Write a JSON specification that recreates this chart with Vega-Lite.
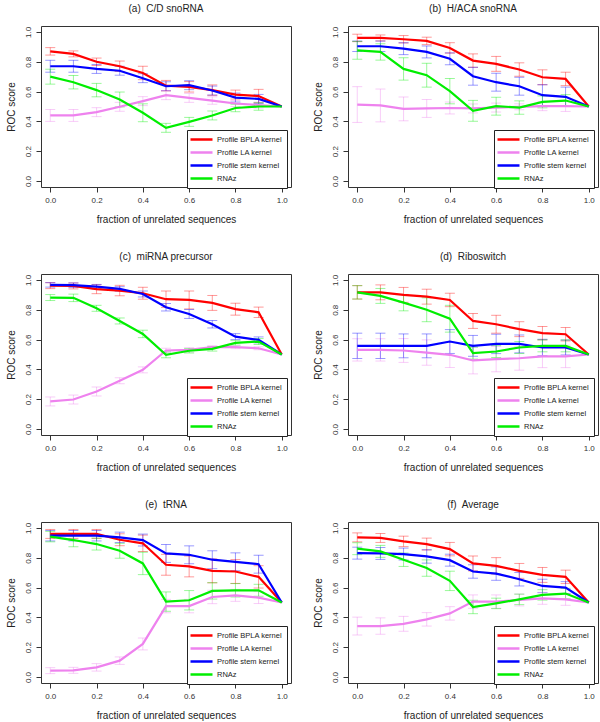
{
"$schema": "https://vega.github.io/schema/vega-lite/v6.json",
"padding": {"left": 5, "top": 3, "right": 2, "bottom": 2},
"datasets": {"d": [
{"p":"a","s":"Profile BPLA kernel","x":0,"y":0.87,"e":0.025},{"p":"a","s":"Profile BPLA kernel","x":0.1,"y":0.853,"e":0.02},{"p":"a","s":"Profile BPLA kernel","x":0.2,"y":0.80,"e":0.025},{"p":"a","s":"Profile BPLA kernel","x":0.3,"y":0.77,"e":0.035},{"p":"a","s":"Profile BPLA kernel","x":0.4,"y":0.725,"e":0.045},{"p":"a","s":"Profile BPLA kernel","x":0.5,"y":0.64,"e":0.035},{"p":"a","s":"Profile BPLA kernel","x":0.6,"y":0.632,"e":0.035},{"p":"a","s":"Profile BPLA kernel","x":0.7,"y":0.61,"e":0.035},{"p":"a","s":"Profile BPLA kernel","x":0.8,"y":0.58,"e":0.03},{"p":"a","s":"Profile BPLA kernel","x":0.9,"y":0.57,"e":0.045},{"p":"a","s":"Profile BPLA kernel","x":1,"y":0.5,"e":0},
{"p":"a","s":"Profile LA kernel","x":0,"y":0.44,"e":0.04},{"p":"a","s":"Profile LA kernel","x":0.1,"y":0.44,"e":0.04},{"p":"a","s":"Profile LA kernel","x":0.2,"y":0.462,"e":0.03},{"p":"a","s":"Profile LA kernel","x":0.3,"y":0.498,"e":0.03},{"p":"a","s":"Profile LA kernel","x":0.4,"y":0.536,"e":0.03},{"p":"a","s":"Profile LA kernel","x":0.5,"y":0.576,"e":0.03},{"p":"a","s":"Profile LA kernel","x":0.6,"y":0.558,"e":0.03},{"p":"a","s":"Profile LA kernel","x":0.7,"y":0.54,"e":0.025},{"p":"a","s":"Profile LA kernel","x":0.8,"y":0.52,"e":0.02},{"p":"a","s":"Profile LA kernel","x":0.9,"y":0.51,"e":0.02},{"p":"a","s":"Profile LA kernel","x":1,"y":0.5,"e":0},
{"p":"a","s":"Profile stem kernel","x":0,"y":0.77,"e":0.04},{"p":"a","s":"Profile stem kernel","x":0.1,"y":0.77,"e":0.04},{"p":"a","s":"Profile stem kernel","x":0.2,"y":0.752,"e":0.03},{"p":"a","s":"Profile stem kernel","x":0.3,"y":0.74,"e":0.03},{"p":"a","s":"Profile stem kernel","x":0.4,"y":0.69,"e":0.03},{"p":"a","s":"Profile stem kernel","x":0.5,"y":0.636,"e":0.03},{"p":"a","s":"Profile stem kernel","x":0.6,"y":0.643,"e":0.03},{"p":"a","s":"Profile stem kernel","x":0.7,"y":0.607,"e":0.03},{"p":"a","s":"Profile stem kernel","x":0.8,"y":0.56,"e":0.03},{"p":"a","s":"Profile stem kernel","x":0.9,"y":0.551,"e":0.03},{"p":"a","s":"Profile stem kernel","x":1,"y":0.5,"e":0},
{"p":"a","s":"RNAz","x":0,"y":0.70,"e":0.05},{"p":"a","s":"RNAz","x":0.1,"y":0.663,"e":0.045},{"p":"a","s":"RNAz","x":0.2,"y":0.61,"e":0.045},{"p":"a","s":"RNAz","x":0.3,"y":0.547,"e":0.05},{"p":"a","s":"RNAz","x":0.4,"y":0.458,"e":0.06},{"p":"a","s":"RNAz","x":0.5,"y":0.357,"e":0.03},{"p":"a","s":"RNAz","x":0.6,"y":0.397,"e":0.03},{"p":"a","s":"RNAz","x":0.7,"y":0.44,"e":0.03},{"p":"a","s":"RNAz","x":0.8,"y":0.49,"e":0.025},{"p":"a","s":"RNAz","x":0.9,"y":0.5,"e":0.025},{"p":"a","s":"RNAz","x":1,"y":0.5,"e":0},

{"p":"b","s":"Profile BPLA kernel","x":0,"y":0.96,"e":0.025},{"p":"b","s":"Profile BPLA kernel","x":0.1,"y":0.96,"e":0.02},{"p":"b","s":"Profile BPLA kernel","x":0.2,"y":0.951,"e":0.025},{"p":"b","s":"Profile BPLA kernel","x":0.3,"y":0.94,"e":0.025},{"p":"b","s":"Profile BPLA kernel","x":0.4,"y":0.893,"e":0.035},{"p":"b","s":"Profile BPLA kernel","x":0.5,"y":0.808,"e":0.045},{"p":"b","s":"Profile BPLA kernel","x":0.6,"y":0.786,"e":0.05},{"p":"b","s":"Profile BPLA kernel","x":0.7,"y":0.748,"e":0.045},{"p":"b","s":"Profile BPLA kernel","x":0.8,"y":0.696,"e":0.05},{"p":"b","s":"Profile BPLA kernel","x":0.9,"y":0.685,"e":0.045},{"p":"b","s":"Profile BPLA kernel","x":1,"y":0.5,"e":0},
{"p":"b","s":"Profile LA kernel","x":0,"y":0.513,"e":0.12},{"p":"b","s":"Profile LA kernel","x":0.1,"y":0.507,"e":0.11},{"p":"b","s":"Profile LA kernel","x":0.2,"y":0.484,"e":0.08},{"p":"b","s":"Profile LA kernel","x":0.3,"y":0.487,"e":0.06},{"p":"b","s":"Profile LA kernel","x":0.4,"y":0.49,"e":0.04},{"p":"b","s":"Profile LA kernel","x":0.5,"y":0.487,"e":0.03},{"p":"b","s":"Profile LA kernel","x":0.6,"y":0.493,"e":0.03},{"p":"b","s":"Profile LA kernel","x":0.7,"y":0.498,"e":0.02},{"p":"b","s":"Profile LA kernel","x":0.8,"y":0.502,"e":0.03},{"p":"b","s":"Profile LA kernel","x":0.9,"y":0.502,"e":0.035},{"p":"b","s":"Profile LA kernel","x":1,"y":0.5,"e":0},
{"p":"b","s":"Profile stem kernel","x":0,"y":0.904,"e":0.035},{"p":"b","s":"Profile stem kernel","x":0.1,"y":0.904,"e":0.035},{"p":"b","s":"Profile stem kernel","x":0.2,"y":0.888,"e":0.04},{"p":"b","s":"Profile stem kernel","x":0.3,"y":0.866,"e":0.04},{"p":"b","s":"Profile stem kernel","x":0.4,"y":0.82,"e":0.04},{"p":"b","s":"Profile stem kernel","x":0.5,"y":0.703,"e":0.06},{"p":"b","s":"Profile stem kernel","x":0.6,"y":0.663,"e":0.06},{"p":"b","s":"Profile stem kernel","x":0.7,"y":0.636,"e":0.06},{"p":"b","s":"Profile stem kernel","x":0.8,"y":0.576,"e":0.07},{"p":"b","s":"Profile stem kernel","x":0.9,"y":0.565,"e":0.065},{"p":"b","s":"Profile stem kernel","x":1,"y":0.5,"e":0},
{"p":"b","s":"RNAz","x":0,"y":0.877,"e":0.06},{"p":"b","s":"RNAz","x":0.1,"y":0.866,"e":0.055},{"p":"b","s":"RNAz","x":0.2,"y":0.752,"e":0.075},{"p":"b","s":"RNAz","x":0.3,"y":0.71,"e":0.08},{"p":"b","s":"RNAz","x":0.4,"y":0.603,"e":0.085},{"p":"b","s":"RNAz","x":0.5,"y":0.471,"e":0.07},{"p":"b","s":"RNAz","x":0.6,"y":0.502,"e":0.06},{"p":"b","s":"RNAz","x":0.7,"y":0.493,"e":0.045},{"p":"b","s":"RNAz","x":0.8,"y":0.531,"e":0.04},{"p":"b","s":"RNAz","x":0.9,"y":0.54,"e":0.04},{"p":"b","s":"RNAz","x":1,"y":0.5,"e":0},

{"p":"c","s":"Profile BPLA kernel","x":0,"y":0.962,"e":0.02},{"p":"c","s":"Profile BPLA kernel","x":0.1,"y":0.96,"e":0.02},{"p":"c","s":"Profile BPLA kernel","x":0.2,"y":0.938,"e":0.03},{"p":"c","s":"Profile BPLA kernel","x":0.3,"y":0.929,"e":0.035},{"p":"c","s":"Profile BPLA kernel","x":0.4,"y":0.911,"e":0.04},{"p":"c","s":"Profile BPLA kernel","x":0.5,"y":0.871,"e":0.055},{"p":"c","s":"Profile BPLA kernel","x":0.6,"y":0.866,"e":0.06},{"p":"c","s":"Profile BPLA kernel","x":0.7,"y":0.846,"e":0.05},{"p":"c","s":"Profile BPLA kernel","x":0.8,"y":0.804,"e":0.04},{"p":"c","s":"Profile BPLA kernel","x":0.9,"y":0.783,"e":0.035},{"p":"c","s":"Profile BPLA kernel","x":1,"y":0.5,"e":0},
{"p":"c","s":"Profile LA kernel","x":0,"y":0.185,"e":0.03},{"p":"c","s":"Profile LA kernel","x":0.1,"y":0.198,"e":0.03},{"p":"c","s":"Profile LA kernel","x":0.2,"y":0.252,"e":0.03},{"p":"c","s":"Profile LA kernel","x":0.3,"y":0.324,"e":0.02},{"p":"c","s":"Profile LA kernel","x":0.4,"y":0.397,"e":0.02},{"p":"c","s":"Profile LA kernel","x":0.5,"y":0.527,"e":0.015},{"p":"c","s":"Profile LA kernel","x":0.6,"y":0.531,"e":0.015},{"p":"c","s":"Profile LA kernel","x":0.7,"y":0.549,"e":0.01},{"p":"c","s":"Profile LA kernel","x":0.8,"y":0.549,"e":0.01},{"p":"c","s":"Profile LA kernel","x":0.9,"y":0.542,"e":0.01},{"p":"c","s":"Profile LA kernel","x":1,"y":0.5,"e":0},
{"p":"c","s":"Profile stem kernel","x":0,"y":0.967,"e":0.015},{"p":"c","s":"Profile stem kernel","x":0.1,"y":0.965,"e":0.015},{"p":"c","s":"Profile stem kernel","x":0.2,"y":0.955,"e":0.015},{"p":"c","s":"Profile stem kernel","x":0.3,"y":0.94,"e":0.015},{"p":"c","s":"Profile stem kernel","x":0.4,"y":0.906,"e":0.02},{"p":"c","s":"Profile stem kernel","x":0.5,"y":0.817,"e":0.025},{"p":"c","s":"Profile stem kernel","x":0.6,"y":0.772,"e":0.03},{"p":"c","s":"Profile stem kernel","x":0.7,"y":0.703,"e":0.025},{"p":"c","s":"Profile stem kernel","x":0.8,"y":0.62,"e":0.02},{"p":"c","s":"Profile stem kernel","x":0.9,"y":0.598,"e":0.02},{"p":"c","s":"Profile stem kernel","x":1,"y":0.5,"e":0},
{"p":"c","s":"RNAz","x":0,"y":0.882,"e":0.02},{"p":"c","s":"RNAz","x":0.1,"y":0.88,"e":0.025},{"p":"c","s":"RNAz","x":0.2,"y":0.81,"e":0.02},{"p":"c","s":"RNAz","x":0.3,"y":0.725,"e":0.02},{"p":"c","s":"RNAz","x":0.4,"y":0.638,"e":0.025},{"p":"c","s":"RNAz","x":0.5,"y":0.498,"e":0.02},{"p":"c","s":"RNAz","x":0.6,"y":0.525,"e":0.015},{"p":"c","s":"RNAz","x":0.7,"y":0.538,"e":0.015},{"p":"c","s":"RNAz","x":0.8,"y":0.578,"e":0.015},{"p":"c","s":"RNAz","x":0.9,"y":0.587,"e":0.02},{"p":"c","s":"RNAz","x":1,"y":0.5,"e":0},

{"p":"d","s":"Profile BPLA kernel","x":0,"y":0.917,"e":0.045},{"p":"d","s":"Profile BPLA kernel","x":0.1,"y":0.917,"e":0.05},{"p":"d","s":"Profile BPLA kernel","x":0.2,"y":0.9,"e":0.05},{"p":"d","s":"Profile BPLA kernel","x":0.3,"y":0.888,"e":0.05},{"p":"d","s":"Profile BPLA kernel","x":0.4,"y":0.866,"e":0.045},{"p":"d","s":"Profile BPLA kernel","x":0.5,"y":0.725,"e":0.05},{"p":"d","s":"Profile BPLA kernel","x":0.6,"y":0.703,"e":0.06},{"p":"d","s":"Profile BPLA kernel","x":0.7,"y":0.67,"e":0.05},{"p":"d","s":"Profile BPLA kernel","x":0.8,"y":0.643,"e":0.045},{"p":"d","s":"Profile BPLA kernel","x":0.9,"y":0.636,"e":0.045},{"p":"d","s":"Profile BPLA kernel","x":1,"y":0.5,"e":0},
{"p":"d","s":"Profile LA kernel","x":0,"y":0.531,"e":0.075},{"p":"d","s":"Profile LA kernel","x":0.1,"y":0.531,"e":0.075},{"p":"d","s":"Profile LA kernel","x":0.2,"y":0.527,"e":0.08},{"p":"d","s":"Profile LA kernel","x":0.3,"y":0.513,"e":0.085},{"p":"d","s":"Profile LA kernel","x":0.4,"y":0.498,"e":0.085},{"p":"d","s":"Profile LA kernel","x":0.5,"y":0.46,"e":0.09},{"p":"d","s":"Profile LA kernel","x":0.6,"y":0.469,"e":0.085},{"p":"d","s":"Profile LA kernel","x":0.7,"y":0.475,"e":0.08},{"p":"d","s":"Profile LA kernel","x":0.8,"y":0.487,"e":0.075},{"p":"d","s":"Profile LA kernel","x":0.9,"y":0.487,"e":0.075},{"p":"d","s":"Profile LA kernel","x":1,"y":0.5,"e":0},
{"p":"d","s":"Profile stem kernel","x":0,"y":0.558,"e":0.085},{"p":"d","s":"Profile stem kernel","x":0.1,"y":0.558,"e":0.085},{"p":"d","s":"Profile stem kernel","x":0.2,"y":0.558,"e":0.08},{"p":"d","s":"Profile stem kernel","x":0.3,"y":0.558,"e":0.08},{"p":"d","s":"Profile stem kernel","x":0.4,"y":0.587,"e":0.08},{"p":"d","s":"Profile stem kernel","x":0.5,"y":0.558,"e":0.07},{"p":"d","s":"Profile stem kernel","x":0.6,"y":0.571,"e":0.065},{"p":"d","s":"Profile stem kernel","x":0.7,"y":0.571,"e":0.06},{"p":"d","s":"Profile stem kernel","x":0.8,"y":0.547,"e":0.055},{"p":"d","s":"Profile stem kernel","x":0.9,"y":0.547,"e":0.05},{"p":"d","s":"Profile stem kernel","x":1,"y":0.5,"e":0},
{"p":"d","s":"RNAz","x":0,"y":0.917,"e":0.045},{"p":"d","s":"RNAz","x":0.1,"y":0.893,"e":0.05},{"p":"d","s":"RNAz","x":0.2,"y":0.848,"e":0.055},{"p":"d","s":"RNAz","x":0.3,"y":0.8,"e":0.08},{"p":"d","s":"RNAz","x":0.4,"y":0.74,"e":0.09},{"p":"d","s":"RNAz","x":0.5,"y":0.509,"e":0.04},{"p":"d","s":"RNAz","x":0.6,"y":0.52,"e":0.04},{"p":"d","s":"RNAz","x":0.7,"y":0.547,"e":0.04},{"p":"d","s":"RNAz","x":0.8,"y":0.558,"e":0.04},{"p":"d","s":"RNAz","x":0.9,"y":0.558,"e":0.04},{"p":"d","s":"RNAz","x":1,"y":0.5,"e":0},

{"p":"e","s":"Profile BPLA kernel","x":0,"y":0.96,"e":0.03},{"p":"e","s":"Profile BPLA kernel","x":0.1,"y":0.96,"e":0.03},{"p":"e","s":"Profile BPLA kernel","x":0.2,"y":0.96,"e":0.03},{"p":"e","s":"Profile BPLA kernel","x":0.3,"y":0.921,"e":0.04},{"p":"e","s":"Profile BPLA kernel","x":0.4,"y":0.897,"e":0.055},{"p":"e","s":"Profile BPLA kernel","x":0.5,"y":0.753,"e":0.07},{"p":"e","s":"Profile BPLA kernel","x":0.6,"y":0.742,"e":0.07},{"p":"e","s":"Profile BPLA kernel","x":0.7,"y":0.712,"e":0.08},{"p":"e","s":"Profile BPLA kernel","x":0.8,"y":0.708,"e":0.08},{"p":"e","s":"Profile BPLA kernel","x":0.9,"y":0.672,"e":0.075},{"p":"e","s":"Profile BPLA kernel","x":1,"y":0.5,"e":0},
{"p":"e","s":"Profile LA kernel","x":0,"y":0.043,"e":0.02},{"p":"e","s":"Profile LA kernel","x":0.1,"y":0.045,"e":0.02},{"p":"e","s":"Profile LA kernel","x":0.2,"y":0.065,"e":0.025},{"p":"e","s":"Profile LA kernel","x":0.3,"y":0.11,"e":0.025},{"p":"e","s":"Profile LA kernel","x":0.4,"y":0.222,"e":0.04},{"p":"e","s":"Profile LA kernel","x":0.5,"y":0.476,"e":0.045},{"p":"e","s":"Profile LA kernel","x":0.6,"y":0.476,"e":0.045},{"p":"e","s":"Profile LA kernel","x":0.7,"y":0.537,"e":0.045},{"p":"e","s":"Profile LA kernel","x":0.8,"y":0.548,"e":0.04},{"p":"e","s":"Profile LA kernel","x":0.9,"y":0.533,"e":0.04},{"p":"e","s":"Profile LA kernel","x":1,"y":0.5,"e":0},
{"p":"e","s":"Profile stem kernel","x":0,"y":0.948,"e":0.035},{"p":"e","s":"Profile stem kernel","x":0.1,"y":0.948,"e":0.035},{"p":"e","s":"Profile stem kernel","x":0.2,"y":0.948,"e":0.035},{"p":"e","s":"Profile stem kernel","x":0.3,"y":0.937,"e":0.035},{"p":"e","s":"Profile stem kernel","x":0.4,"y":0.919,"e":0.04},{"p":"e","s":"Profile stem kernel","x":0.5,"y":0.829,"e":0.06},{"p":"e","s":"Profile stem kernel","x":0.6,"y":0.82,"e":0.06},{"p":"e","s":"Profile stem kernel","x":0.7,"y":0.787,"e":0.06},{"p":"e","s":"Profile stem kernel","x":0.8,"y":0.773,"e":0.06},{"p":"e","s":"Profile stem kernel","x":0.9,"y":0.757,"e":0.06},{"p":"e","s":"Profile stem kernel","x":1,"y":0.5,"e":0},
{"p":"e","s":"RNAz","x":0,"y":0.942,"e":0.035},{"p":"e","s":"RNAz","x":0.1,"y":0.919,"e":0.045},{"p":"e","s":"RNAz","x":0.2,"y":0.892,"e":0.04},{"p":"e","s":"RNAz","x":0.3,"y":0.847,"e":0.05},{"p":"e","s":"RNAz","x":0.4,"y":0.762,"e":0.075},{"p":"e","s":"RNAz","x":0.5,"y":0.506,"e":0.065},{"p":"e","s":"RNAz","x":0.6,"y":0.515,"e":0.065},{"p":"e","s":"RNAz","x":0.7,"y":0.578,"e":0.055},{"p":"e","s":"RNAz","x":0.8,"y":0.582,"e":0.045},{"p":"e","s":"RNAz","x":0.9,"y":0.582,"e":0.04},{"p":"e","s":"RNAz","x":1,"y":0.5,"e":0},

{"p":"f","s":"Profile BPLA kernel","x":0,"y":0.937,"e":0.03},{"p":"f","s":"Profile BPLA kernel","x":0.1,"y":0.933,"e":0.03},{"p":"f","s":"Profile BPLA kernel","x":0.2,"y":0.91,"e":0.035},{"p":"f","s":"Profile BPLA kernel","x":0.3,"y":0.892,"e":0.04},{"p":"f","s":"Profile BPLA kernel","x":0.4,"y":0.858,"e":0.045},{"p":"f","s":"Profile BPLA kernel","x":0.5,"y":0.762,"e":0.05},{"p":"f","s":"Profile BPLA kernel","x":0.6,"y":0.746,"e":0.055},{"p":"f","s":"Profile BPLA kernel","x":0.7,"y":0.712,"e":0.05},{"p":"f","s":"Profile BPLA kernel","x":0.8,"y":0.685,"e":0.05},{"p":"f","s":"Profile BPLA kernel","x":0.9,"y":0.672,"e":0.045},{"p":"f","s":"Profile BPLA kernel","x":1,"y":0.5,"e":0},
{"p":"f","s":"Profile LA kernel","x":0,"y":0.342,"e":0.06},{"p":"f","s":"Profile LA kernel","x":0.1,"y":0.342,"e":0.055},{"p":"f","s":"Profile LA kernel","x":0.2,"y":0.357,"e":0.05},{"p":"f","s":"Profile LA kernel","x":0.3,"y":0.387,"e":0.045},{"p":"f","s":"Profile LA kernel","x":0.4,"y":0.427,"e":0.045},{"p":"f","s":"Profile LA kernel","x":0.5,"y":0.506,"e":0.045},{"p":"f","s":"Profile LA kernel","x":0.6,"y":0.506,"e":0.045},{"p":"f","s":"Profile LA kernel","x":0.7,"y":0.517,"e":0.04},{"p":"f","s":"Profile LA kernel","x":0.8,"y":0.528,"e":0.04},{"p":"f","s":"Profile LA kernel","x":0.9,"y":0.521,"e":0.04},{"p":"f","s":"Profile LA kernel","x":1,"y":0.5,"e":0},
{"p":"f","s":"Profile stem kernel","x":0,"y":0.831,"e":0.04},{"p":"f","s":"Profile stem kernel","x":0.1,"y":0.829,"e":0.04},{"p":"f","s":"Profile stem kernel","x":0.2,"y":0.825,"e":0.04},{"p":"f","s":"Profile stem kernel","x":0.3,"y":0.809,"e":0.045},{"p":"f","s":"Profile stem kernel","x":0.4,"y":0.784,"e":0.04},{"p":"f","s":"Profile stem kernel","x":0.5,"y":0.708,"e":0.045},{"p":"f","s":"Profile stem kernel","x":0.6,"y":0.694,"e":0.045},{"p":"f","s":"Profile stem kernel","x":0.7,"y":0.656,"e":0.045},{"p":"f","s":"Profile stem kernel","x":0.8,"y":0.611,"e":0.045},{"p":"f","s":"Profile stem kernel","x":0.9,"y":0.6,"e":0.04},{"p":"f","s":"Profile stem kernel","x":1,"y":0.5,"e":0},
{"p":"f","s":"RNAz","x":0,"y":0.861,"e":0.04},{"p":"f","s":"RNAz","x":0.1,"y":0.843,"e":0.04},{"p":"f","s":"RNAz","x":0.2,"y":0.787,"e":0.045},{"p":"f","s":"RNAz","x":0.3,"y":0.731,"e":0.055},{"p":"f","s":"RNAz","x":0.4,"y":0.645,"e":0.065},{"p":"f","s":"RNAz","x":0.5,"y":0.47,"e":0.045},{"p":"f","s":"RNAz","x":0.6,"y":0.494,"e":0.035},{"p":"f","s":"RNAz","x":0.7,"y":0.521,"e":0.035},{"p":"f","s":"RNAz","x":0.8,"y":0.551,"e":0.035},{"p":"f","s":"RNAz","x":0.9,"y":0.56,"e":0.035},{"p":"f","s":"RNAz","x":1,"y":0.5,"e":0}
]},
"data": {"name": "d"},
"config": {
  "font": "Liberation Sans",
  "view": {"stroke": "#333", "strokeWidth": 1},
  "axis": {"grid": false, "domain": false, "tickColor": "#333", "tickSize": 5, "labelFont": "Liberation Sans", "labelFontSize": 8, "labelColor": "#333", "labelPadding": 4, "labelOverlap": false, "titleFont": "Liberation Sans", "titleFontSize": 10, "titleFontWeight": "normal", "titleColor": "#222"},
  "axisY": {"labelAngle": -90, "labelAlign": "center", "labelBaseline": "bottom", "titlePadding": 8},
  "axisX": {"titlePadding": 10},
  "title": {"fontSize": 10, "fontWeight": "normal", "font": "Liberation Sans", "color": "#222", "offset": 12},
  "legend": {"orient": "none", "legendX": 146, "legendY": 104, "strokeColor": "#222", "fillColor": "white", "padding": 4, "labelFont": "Liberation Sans", "labelFontSize": 7.5, "labelColor": "#222", "labelOffset": 15, "rowPadding": 2, "symbolStrokeWidth": 2.5, "symbolSize": 64, "symbolOpacity": 1}
},
"resolve": {"legend": {"color": "independent"}},
"vconcat": [
 {"hconcat": [
  {"title": "(a)\u00a0 C/D snoRNA", "width": 250, "height": 161, "transform": [{"filter": "datum.p === 'a'"}],
   "encoding": {"x": {"field": "x", "type": "quantitative", "scale": {"domain": [-0.04, 1.04], "nice": false, "zero": false}, "axis": {"values": [0,0.2,0.4,0.6,0.8,1], "format": ".1f", "title": "fraction of unrelated sequences"}},
      "y": {"field": "y", "type": "quantitative", "scale": {"domain": [-0.04, 1.04], "nice": false, "zero": false}, "axis": {"values": [0,0.2,0.4,0.6,0.8,1], "format": ".1f", "title": "ROC score"}},
      "color": {"field": "s", "type": "nominal", "scale": {"domain": ["Profile BPLA kernel","Profile LA kernel","Profile stem kernel","RNAz"], "range": ["#FF0000","#EE82EE","#0000FF","#00EE00"]}, "legend": {"title": null, "symbolType": "M-1.5,0H4"}}},
   "layer": [
    {"transform": [{"filter": "datum.e > 0"}], "mark": {"type": "errorbar", "ticks": {"size": 10, "opacity": 0.4}, "rule": {"opacity": 0.4}},
     "encoding": {"yError": {"field": "e"}}},
    {"mark": {"type": "line", "strokeWidth": 2.2}}
   ]},
  {"title": "(b)\u00a0 H/ACA snoRNA", "width": 250, "height": 161, "transform": [{"filter": "datum.p === 'b'"}],
   "encoding": {"x": {"field": "x", "type": "quantitative", "scale": {"domain": [-0.04, 1.04], "nice": false, "zero": false}, "axis": {"values": [0,0.2,0.4,0.6,0.8,1], "format": ".1f", "title": "fraction of unrelated sequences"}},
      "y": {"field": "y", "type": "quantitative", "scale": {"domain": [-0.04, 1.04], "nice": false, "zero": false}, "axis": {"values": [0,0.2,0.4,0.6,0.8,1], "format": ".1f", "title": "ROC score"}},
      "color": {"field": "s", "type": "nominal", "scale": {"domain": ["Profile BPLA kernel","Profile LA kernel","Profile stem kernel","RNAz"], "range": ["#FF0000","#EE82EE","#0000FF","#00EE00"]}, "legend": {"title": null, "symbolType": "M-1.5,0H4"}}},
   "layer": [
    {"transform": [{"filter": "datum.e > 0"}], "mark": {"type": "errorbar", "ticks": {"size": 10, "opacity": 0.4}, "rule": {"opacity": 0.4}},
     "encoding": {"yError": {"field": "e"}}},
    {"mark": {"type": "line", "strokeWidth": 2.2}}
   ]}
 ], "spacing": 20, "resolve": {"legend": {"color": "independent"}}},
 {"hconcat": [
  {"title": "(c)\u00a0 miRNA precursor", "width": 250, "height": 161, "transform": [{"filter": "datum.p === 'c'"}],
   "encoding": {"x": {"field": "x", "type": "quantitative", "scale": {"domain": [-0.04, 1.04], "nice": false, "zero": false}, "axis": {"values": [0,0.2,0.4,0.6,0.8,1], "format": ".1f", "title": "fraction of unrelated sequences"}},
      "y": {"field": "y", "type": "quantitative", "scale": {"domain": [-0.04, 1.04], "nice": false, "zero": false}, "axis": {"values": [0,0.2,0.4,0.6,0.8,1], "format": ".1f", "title": "ROC score"}},
      "color": {"field": "s", "type": "nominal", "scale": {"domain": ["Profile BPLA kernel","Profile LA kernel","Profile stem kernel","RNAz"], "range": ["#FF0000","#EE82EE","#0000FF","#00EE00"]}, "legend": {"title": null, "symbolType": "M-1.5,0H4"}}},
   "layer": [
    {"transform": [{"filter": "datum.e > 0"}], "mark": {"type": "errorbar", "ticks": {"size": 10, "opacity": 0.4}, "rule": {"opacity": 0.4}},
     "encoding": {"yError": {"field": "e"}}},
    {"mark": {"type": "line", "strokeWidth": 2.2}}
   ]},
  {"title": "(d)\u00a0 Riboswitch", "width": 250, "height": 161, "transform": [{"filter": "datum.p === 'd'"}],
   "encoding": {"x": {"field": "x", "type": "quantitative", "scale": {"domain": [-0.04, 1.04], "nice": false, "zero": false}, "axis": {"values": [0,0.2,0.4,0.6,0.8,1], "format": ".1f", "title": "fraction of unrelated sequences"}},
      "y": {"field": "y", "type": "quantitative", "scale": {"domain": [-0.04, 1.04], "nice": false, "zero": false}, "axis": {"values": [0,0.2,0.4,0.6,0.8,1], "format": ".1f", "title": "ROC score"}},
      "color": {"field": "s", "type": "nominal", "scale": {"domain": ["Profile BPLA kernel","Profile LA kernel","Profile stem kernel","RNAz"], "range": ["#FF0000","#EE82EE","#0000FF","#00EE00"]}, "legend": {"title": null, "symbolType": "M-1.5,0H4"}}},
   "layer": [
    {"transform": [{"filter": "datum.e > 0"}], "mark": {"type": "errorbar", "ticks": {"size": 10, "opacity": 0.4}, "rule": {"opacity": 0.4}},
     "encoding": {"yError": {"field": "e"}}},
    {"mark": {"type": "line", "strokeWidth": 2.2}}
   ]}
 ], "spacing": 20, "resolve": {"legend": {"color": "independent"}}},
 {"hconcat": [
  {"title": "(e)\u00a0 tRNA", "width": 250, "height": 161, "transform": [{"filter": "datum.p === 'e'"}],
   "encoding": {"x": {"field": "x", "type": "quantitative", "scale": {"domain": [-0.04, 1.04], "nice": false, "zero": false}, "axis": {"values": [0,0.2,0.4,0.6,0.8,1], "format": ".1f", "title": "fraction of unrelated sequences"}},
      "y": {"field": "y", "type": "quantitative", "scale": {"domain": [-0.04, 1.04], "nice": false, "zero": false}, "axis": {"values": [0,0.2,0.4,0.6,0.8,1], "format": ".1f", "title": "ROC score"}},
      "color": {"field": "s", "type": "nominal", "scale": {"domain": ["Profile BPLA kernel","Profile LA kernel","Profile stem kernel","RNAz"], "range": ["#FF0000","#EE82EE","#0000FF","#00EE00"]}, "legend": {"title": null, "symbolType": "M-1.5,0H4"}}},
   "layer": [
    {"transform": [{"filter": "datum.e > 0"}], "mark": {"type": "errorbar", "ticks": {"size": 10, "opacity": 0.4}, "rule": {"opacity": 0.4}},
     "encoding": {"yError": {"field": "e"}}},
    {"mark": {"type": "line", "strokeWidth": 2.2}}
   ]},
  {"title": "(f)\u00a0 Average", "width": 250, "height": 161, "transform": [{"filter": "datum.p === 'f'"}],
   "encoding": {"x": {"field": "x", "type": "quantitative", "scale": {"domain": [-0.04, 1.04], "nice": false, "zero": false}, "axis": {"values": [0,0.2,0.4,0.6,0.8,1], "format": ".1f", "title": "fraction of unrelated sequences"}},
      "y": {"field": "y", "type": "quantitative", "scale": {"domain": [-0.04, 1.04], "nice": false, "zero": false}, "axis": {"values": [0,0.2,0.4,0.6,0.8,1], "format": ".1f", "title": "ROC score"}},
      "color": {"field": "s", "type": "nominal", "scale": {"domain": ["Profile BPLA kernel","Profile LA kernel","Profile stem kernel","RNAz"], "range": ["#FF0000","#EE82EE","#0000FF","#00EE00"]}, "legend": {"title": null, "symbolType": "M-1.5,0H4"}}},
   "layer": [
    {"transform": [{"filter": "datum.e > 0"}], "mark": {"type": "errorbar", "ticks": {"size": 10, "opacity": 0.4}, "rule": {"opacity": 0.4}},
     "encoding": {"yError": {"field": "e"}}},
    {"mark": {"type": "line", "strokeWidth": 2.2}}
   ]}
 ], "spacing": 20, "resolve": {"legend": {"color": "independent"}}}
],
"spacing": 26
}
